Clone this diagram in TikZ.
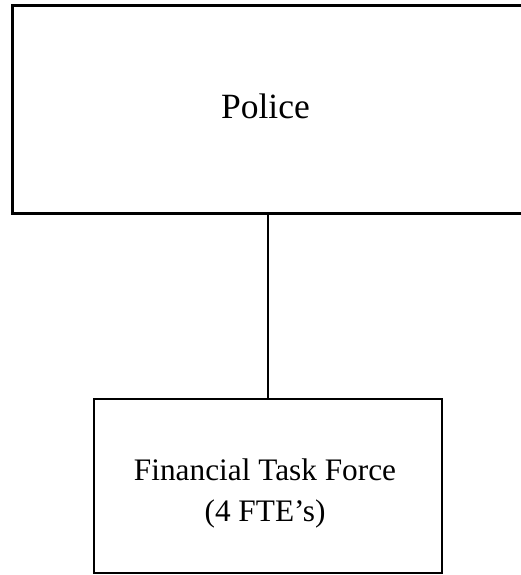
\documentclass[tikz,border=0pt]{standalone}
\usepackage{fontspec}
\setmainfont{Liberation Serif}
\usetikzlibrary{positioning}

\tikzset{
  boite/.style={draw, line width=2.8pt, align=center, inner sep=0pt},
}

\begin{document}
\begin{tikzpicture}[x=1pt,y=-1pt]
\useasboundingbox (0,0) rectangle (520,575);

%%%%%%%%%%% les deux boites
% ---------------    police
\node[boite, minimum width=511pt, minimum height=208pt,
      font=\fontsize{35.5}{42}\selectfont] (police) at (268,109.5) {};
\node[font=\fontsize{35.5}{42}\selectfont, anchor=base] (policetxt) at (265.5,119) {Police};
% ---------------    task force
\node[boite, minimum width=348pt, minimum height=174pt] (task) at (268,486) {};
\node[align=center, font=\fontsize{31.3}{41}\selectfont, anchor=base]
      (tasktxt) at (265,521) {Financial Task Force\\(4 FTE’s)};

%%%%%%%%%%% liaison
\draw[line width=2.8pt] (police.south -| task.north) -- (task.north);
\end{tikzpicture}
\end{document}
